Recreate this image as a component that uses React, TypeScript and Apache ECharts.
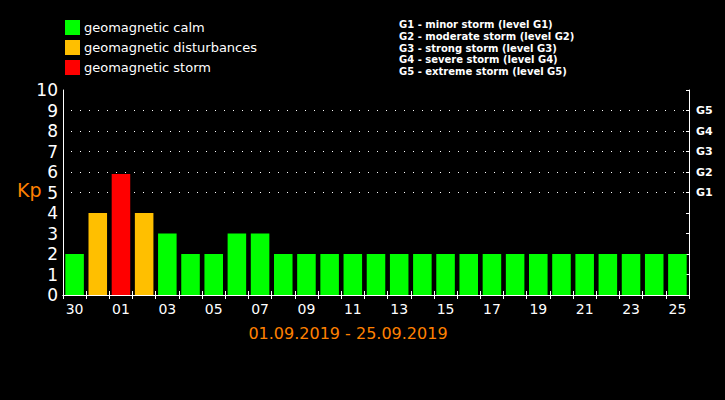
import React, { useEffect, useRef } from "react";
import * as echarts from "echarts";

const days = ["30","31","01","02","03","04","05","06","07","08","09","10","11","12","13","14","15","16","17","18","19","20","21","22","23","24","25"];
const kp = [2, 4, 5.9, 4, 3, 2, 2, 3, 3, 2, 2, 2, 2, 2, 2, 2, 2, 2, 2, 2, 2, 2, 2, 2, 2, 2, 2];
const gLevels = ["G1", "G2", "G3", "G4", "G5"];
const legendNames = ["geomagnetic calm", "geomagnetic disturbances", "geomagnetic storm"];
const legendColors = ["#00ff00", "#ffbf00", "#ff0000"];
const stormLines = [
  "G1 - minor storm (level G1)",
  "G2 - moderate storm (level G2)",
  "G3 - strong storm (level G3)",
  "G4 - severe storm (level G4)",
  "G5 - extreme storm (level G5)",
];
const dateRange = "01.09.2019 - 25.09.2019";

const FONT = "DejaVu Sans";

export default function App() {
  const ref = useRef<HTMLDivElement>(null);
  useEffect(() => {
    document.body.style.margin = "0";
    document.body.style.background = "#000";
    const chart = echarts.init(ref.current!, null, { renderer: "svg" });
    const cls = (v: number) => (v < 4 ? 0 : v < 5 ? 1 : 2);
    const series = legendNames.map((name, i) => ({
      name,
      type: "bar",
      stack: "kp",
      barCategoryGap: "20%",
      itemStyle: { color: legendColors[i] },
      data: kp.map((v) => (cls(v) === i ? v : "-")),
    }));
    const axisLine = { show: true, lineStyle: { color: "#fff", width: 1 } };
    chart.setOption({
      animation: false,
      backgroundColor: "#000",
      textStyle: { fontFamily: FONT },
      grid: { left: 63, right: 36, top: 90, bottom: 105, containLabel: false },
      legend: {
        orient: "vertical",
        left: 65,
        top: 20,
        padding: 0,
        itemWidth: 15,
        itemHeight: 15,
        itemGap: 5,
        icon: "rect",
        selectedMode: false,
        textStyle: { color: "#fff", fontSize: 13, fontFamily: FONT, padding: [0, 0, 0, -1] },
        data: legendNames,
      },
      xAxis: [
        {
          type: "category",
          data: days,
          position: "bottom",
          axisLine,
          axisTick: { show: true, inside: true, length: 4, interval: 0, lineStyle: { color: "#fff" } },
          axisLabel: { color: "#fff", fontSize: 14, interval: 1, margin: 7, fontFamily: FONT },
        },
        {
          type: "category",
          data: days,
          position: "top",
          axisLine,
          axisTick: { show: true, inside: true, length: 4, interval: 0, lineStyle: { color: "#fff" } },
          axisLabel: { show: false },
        },
      ],
      yAxis: [
        {
          type: "value",
          min: 0,
          max: 10,
          interval: 1,
          position: "left",
          axisLine,
          axisTick: { show: false },
          axisLabel: { color: "#fff", fontSize: 17, margin: 5, fontFamily: FONT },
          splitLine: { show: false },
        },
        {
          type: "value",
          min: 0,
          max: 10,
          interval: 1,
          position: "right",
          axisLine,
          axisTick: { show: true, inside: true, length: 3, lineStyle: { color: "#fff" } },
          axisLabel: {
            color: "#fff",
            fontSize: 11,
            fontWeight: "bold",
            margin: 7,
            fontFamily: FONT,
            formatter: (v: number) => (v >= 5 && v <= 9 ? gLevels[v - 5] : ""),
          },
          splitLine: {
            show: true,
            lineStyle: {
              color: ["transparent", "transparent", "transparent", "transparent", "transparent", "#fff", "#fff", "#fff", "#fff", "#fff", "transparent"],
              type: [1, 8],
              dashOffset: 1,
              width: 1,
            },
          },
        },
      ],
      series,
      graphic: [
        {
          type: "text",
          left: 17,
          top: 180,
          style: { text: "Kp", fill: "#ff8000", fontSize: 19, fontFamily: FONT },
        },
        {
          type: "text",
          x: 348,
          y: 333,
          style: { text: dateRange, fill: "#ff8000", fontSize: 16, fontFamily: FONT, align: "center", verticalAlign: "middle" },
        },
        {
          type: "text",
          x: 399,
          y: 19,
          style: {
            text: stormLines.join("\n"),
            fill: "#fff",
            fontSize: 10,
            fontWeight: "bold",
            lineHeight: 11.7,
            fontFamily: FONT,
          },
        },
      ],
    });
    return () => chart.dispose();
  }, []);
  return <div ref={ref} style={{ width: 725, height: 400 }} />;
}
